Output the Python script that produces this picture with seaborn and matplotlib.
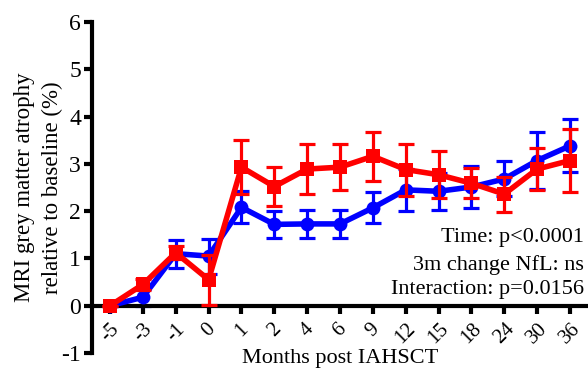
import matplotlib
matplotlib.use("Agg")
import matplotlib.pyplot as plt
import numpy as np
import pandas as pd
import seaborn as sns

months = ["-5", "-3", "-1", "0", "1", "2", "4", "6", "9", "12", "15", "18", "24", "30", "36"]

blue_mean = [0, 0.18, 1.10, 1.05, 2.08, 1.72, 1.73, 1.73, 2.07, 2.45, 2.42, 2.51, 2.68, 3.07, 3.38]
blue_err = [0, 0.18, 0.30, 0.37, 0.34, 0.29, 0.30, 0.29, 0.33, 0.44, 0.39, 0.45, 0.37, 0.60, 0.56]

red_mean = [0, 0.45, 1.12, 0.55, 2.93, 2.52, 2.89, 2.93, 3.16, 2.88, 2.77, 2.59, 2.36, 2.89, 3.07]
red_err = [0, 0.12, 0.14, 0.53, 0.57, 0.42, 0.52, 0.48, 0.52, 0.55, 0.50, 0.32, 0.37, 0.45, 0.66]

stats_lines = ["Time: p<0.0001", "3m change NfL: ns", "Interaction: p=0.0156"]

sns.set_style("ticks")
plt.rcParams["font.family"] = ["Liberation Serif", "DejaVu Serif"]
plt.rcParams["axes.unicode_minus"] = False
plt.rcParams["text.color"] = "black"
plt.rcParams["axes.labelcolor"] = "black"
plt.rcParams["axes.edgecolor"] = "black"
plt.rcParams["xtick.color"] = "black"
plt.rcParams["ytick.color"] = "black"

pos = np.arange(len(months))
df = pd.DataFrame({
    "pos": np.concatenate([pos, pos]),
    "value": blue_mean + red_mean,
    "group": ["blue"] * len(pos) + ["red"] * len(pos),
})

fig = plt.figure(figsize=(5.88, 3.70), dpi=100)
ax = fig.add_axes([92 / 588, 1 - 353 / 370, 496 / 588, 331 / 370])

ax.errorbar(pos, blue_mean, yerr=blue_err, fmt="none", ecolor="#0000ff",
            elinewidth=2.3, capsize=5.5, capthick=2.3, zorder=2)
sns.lineplot(data=df[df.group == "blue"], x="pos", y="value", color="#0000ff",
             lw=4, marker="o", markersize=10, markeredgewidth=0, ax=ax,
             legend=False, zorder=3)
ax.errorbar(pos, red_mean, yerr=red_err, fmt="none", ecolor="#ff0000",
            elinewidth=2.3, capsize=5.5, capthick=2.3, zorder=4)
sns.lineplot(data=df[df.group == "red"], x="pos", y="value", color="#ff0000",
             lw=4, marker="s", markersize=10, markeredgewidth=0, ax=ax,
             legend=False, zorder=5)

ax.set_xlim(-0.55, 14.55)
ax.set_ylim(-1, 6)
ax.set_yticks(range(-1, 7))
ax.set_xticks(pos, labels=months)
ax.tick_params(axis="y", labelsize=17, width=3, length=6, pad=2)
ax.tick_params(axis="x", labelsize=15, width=3, length=6, pad=4, labelrotation=45)
for lab in ax.get_xticklabels():
    lab.set_ha("right")
    lab.set_va("top")

ax.spines["bottom"].set_position(("data", 0))
ax.spines["bottom"].set_linewidth(3)
ax.spines["left"].set_linewidth(3)
ax.spines["top"].set_visible(False)
ax.spines["right"].set_visible(False)

ax.set_xlabel("Months post IAHSCT", fontsize=16, labelpad=1)
ax.set_ylabel("MRI grey matter atrophy\nrelative to baseline (%)", fontsize=16.5,
              linespacing=1.45)
ax.yaxis.set_label_coords(-0.058, 0.5)

for txt, yy in zip(stats_lines, [0.350, 0.266, 0.192]):
    ax.text(0.992, yy, txt, transform=ax.transAxes, ha="right", va="center",
            fontsize=16)

fig.savefig("out.png", dpi=100)
